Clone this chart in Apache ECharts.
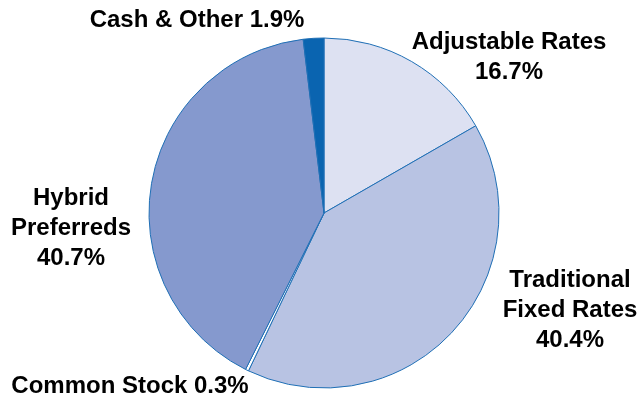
<!DOCTYPE html>
<html><head><meta charset="utf-8">
<script src="https://cdn.jsdelivr.net/npm/echarts@6/dist/echarts.min.js"></script>
<style>html,body{margin:0;padding:0;background:#fff}#c{width:639px;height:400px}</style>
</head><body><div id="c"></div>
<script>
const categories = ['Adjustable Rates', 'Traditional\nFixed Rates', 'Common Stock', 'Hybrid\nPreferreds', 'Cash & Other'];
const values = [16.7, 40.4, 0.3, 40.7, 1.9];
const colors = ['#dde1f2', '#b8c3e3', '#ffffff', '#8599ce', '#0a64b0'];
const labelPos = [[509, 57], [570, 310], [130, 386], [71, 228], [197, 20]];
const oneLine = [false, false, true, false, true];

const chart = echarts.init(document.getElementById('c'));
chart.setOption({
  animation: false,
  series: [{
    type: 'pie',
    center: [324, 213],
    radius: [0, 175],
    startAngle: 90,
    clockwise: true,
    avoidLabelOverlap: false,
    data: categories.map((n, i) => ({ name: n, value: values[i], itemStyle: { color: colors[i] } })),
    itemStyle: { borderColor: '#1f6fb5', borderWidth: 1 },
    label: {
      show: true,
      position: 'outside',
      formatter: p => p.name + (oneLine[p.dataIndex] ? ' ' : '\n') + p.value + '%',
      fontFamily: 'Liberation Sans, Arial, sans-serif',
      fontWeight: 'bold',
      fontSize: 24,
      lineHeight: 30,
      color: '#000',
      align: 'center'
    },
    labelLine: { show: false },
    labelLayout: p => ({ x: labelPos[p.dataIndex][0], y: labelPos[p.dataIndex][1], align: 'center', verticalAlign: 'middle' })
  }]
});
</script></body></html>
